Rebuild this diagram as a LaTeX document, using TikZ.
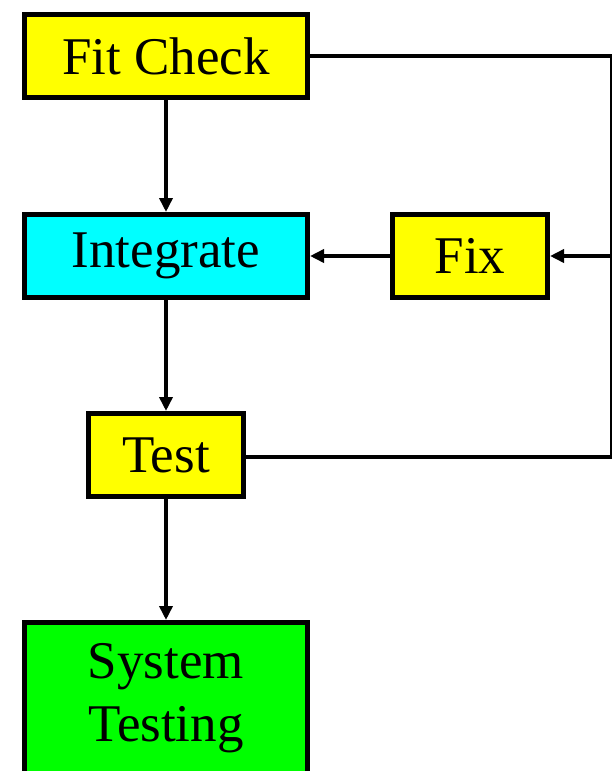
\documentclass[tikz,border=0pt]{standalone}
\usepackage{xcolor}
\usepackage{fontspec}
\setmainfont{Liberation Serif}
\usepackage{tikz}
\usetikzlibrary{arrows.meta}
\definecolor{boxyellow}{HTML}{FFFF00}
\definecolor{boxcyan}{HTML}{00FFFF}
\definecolor{boxgreen}{HTML}{00FF00}
\tikzstyle{wide} = [rectangle, minimum width=283pt, minimum height=83pt, text centered, draw=black, line width=5pt, inner sep=0pt]
\tikzstyle{narrow} = [rectangle, minimum width=155pt, minimum height=83pt, text centered, draw=black, line width=5pt, inner sep=0pt]
\tikzstyle{arrow} = [line width=4pt,-{Triangle[length=14pt,width=13pt]}]
\tikzstyle{line} = [line width=4pt]

\begin{document}
\begin{tikzpicture}[x=1pt, y=1pt, font=\fontsize{53}{63}\selectfont]
      \useasboundingbox (0,0) rectangle (611,-771);
      \node (fit) [wide, fill=boxyellow] at (166,-56) {Fit Check};
      \node (int) [wide, fill=boxcyan] at (166,-256) {Integrate};
      \draw [arrow] (fit) -- (int);
      \node (fix) [narrow, fill=boxyellow] at (470,-256) {Fix};
      \draw [arrow] (fix) -- (int);
      \node (test) [narrow, fill=boxyellow] at (166,-455) {Test};
      \draw [arrow] (int) -- (test);
      \node (sys) [wide, fill=boxgreen, minimum height=152pt, align=center] at (166,-698.5) {System\\Testing};
      \draw [arrow] (test) -- (sys.north);
      % feedback loop on the right edge
      \coordinate (rtop) at (612,-56);
      \coordinate (rmid) at (612,-256);
      \coordinate (rbot) at (612,-457);
      \draw [line] (fit.east) -- (rtop) -- (rbot) -- (test.east |- rbot);
      \draw [arrow] (rmid) -- (fix.east);
\end{tikzpicture}
\end{document}
